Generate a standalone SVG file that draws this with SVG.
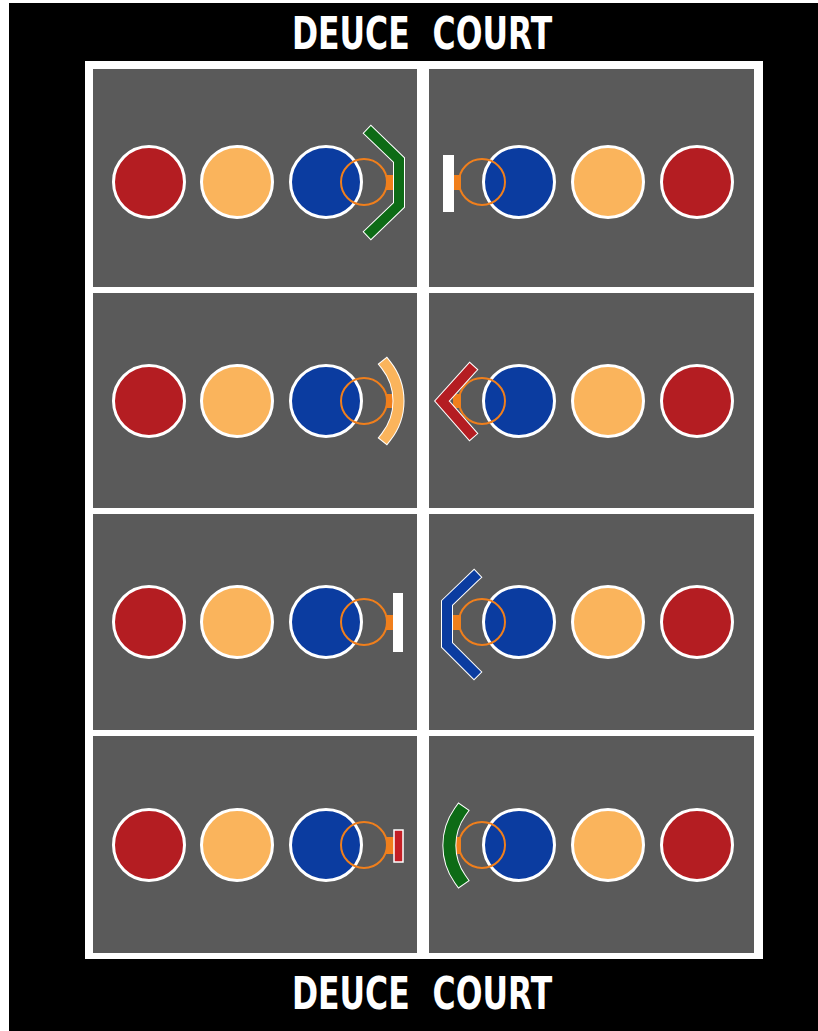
<svg xmlns="http://www.w3.org/2000/svg" width="818" height="1031" viewBox="0 0 818 1031">
<style>
.cell{fill:#5a5a5a}
.red{fill:#b41d22;stroke:#fff;stroke-width:3}
.gold{fill:#fab45c;stroke:#fff;stroke-width:3}
.blue{fill:#0b3ca0;stroke:#fff;stroke-width:3}
.ring{fill:none;stroke:#f07f1c;stroke-width:2}
.tab{fill:#f07f1c}
.title{font-family:"DejaVu Sans","Liberation Sans",sans-serif;font-weight:bold;font-size:45px;fill:#fff}
.edge{fill:none;stroke:#fff;stroke-width:12;stroke-linejoin:miter;stroke-linecap:square}
.band{fill:none;stroke-width:10;stroke-linejoin:miter;stroke-linecap:square}
</style>
<rect x="0" y="0" width="818" height="1031" fill="#fff"/>
<rect x="9" y="3" width="809" height="1028" fill="#000"/>
<g id="court">
<rect x="85" y="61" width="678" height="898" fill="#fff"/>
<rect class="cell" x="93" y="69" width="324" height="218"/>
<rect class="cell" x="429" y="69" width="325" height="218"/>
<rect class="cell" x="93" y="293" width="324" height="215"/>
<rect class="cell" x="429" y="293" width="325" height="215"/>
<rect class="cell" x="93" y="514" width="324" height="216"/>
<rect class="cell" x="429" y="514" width="325" height="216"/>
<rect class="cell" x="93" y="736" width="324" height="217"/>
<rect class="cell" x="429" y="736" width="325" height="217"/>
</g>
<g id="title-top">
<text class="title" transform="scale(0.7,1)" y="49"><tspan x="417">DEUCE</tspan><tspan x="618">COURT</tspan></text>
</g>
<g id="title-bottom">
<text class="title" transform="scale(0.7,1)" y="1009"><tspan x="417">DEUCE</tspan><tspan x="618">COURT</tspan></text>
</g>

<g id="row1-left">
<circle class="red" cx="149" cy="182" r="35.5"/>
<circle class="gold" cx="237" cy="182" r="35.5"/>
<circle class="blue" cx="326" cy="182" r="35.5"/>
<circle class="ring" cx="364" cy="182" r="23"/>
<rect class="tab" x="386" y="175" width="8" height="15"/>
<polyline class="edge" points="371,133 399,160 399,205 371,232"/>
<polyline class="band" points="371,133 399,160 399,205 371,232" stroke="#0d6b16"/>
</g>
<g id="row1-right">
<circle class="red" cx="697" cy="182" r="35.5"/>
<circle class="gold" cx="608" cy="182" r="35.5"/>
<circle class="blue" cx="519" cy="182" r="35.5"/>
<circle class="ring" cx="482" cy="182" r="23"/>
<rect class="tab" x="453" y="175" width="8" height="15"/>
<rect x="443" y="155" width="11" height="57" fill="#fff"/>
</g>

<g id="row2-left">
<circle class="red" cx="149" cy="401" r="35.5"/>
<circle class="gold" cx="237" cy="401" r="35.5"/>
<circle class="blue" cx="326" cy="401" r="35.5"/>
<circle class="ring" cx="364" cy="401" r="23"/>
<rect class="tab" x="386" y="394" width="8" height="14"/>
<path d="M386,365 A58,58 0 0 1 386,437" fill="none" stroke="#fff" stroke-width="12" stroke-linecap="square"/>
<path d="M386,365 A58,58 0 0 1 386,437" fill="none" stroke="#fab45c" stroke-width="10" stroke-linecap="square"/>
</g>
<g id="row2-right">
<circle class="red" cx="697" cy="401" r="35.5"/>
<circle class="gold" cx="608" cy="401" r="35.5"/>
<circle class="blue" cx="519" cy="401" r="35.5"/>
<circle class="ring" cx="482" cy="401" r="23"/>
<rect class="tab" x="453" y="394" width="8" height="14"/>
<polyline class="edge" points="470,370 442,401 470,433"/>
<polyline class="band" points="470,370 442,401 470,433" stroke="#b41d22"/>
</g>

<g id="row3-left">
<circle class="red" cx="149" cy="622" r="35.5"/>
<circle class="gold" cx="237" cy="622" r="35.5"/>
<circle class="blue" cx="326" cy="622" r="35.5"/>
<circle class="ring" cx="364" cy="622" r="23"/>
<rect class="tab" x="386" y="615" width="8" height="15"/>
<rect x="393" y="593" width="10" height="59" fill="#fff"/>
</g>
<g id="row3-right">
<circle class="red" cx="697" cy="622" r="35.5"/>
<circle class="gold" cx="608" cy="622" r="35.5"/>
<circle class="blue" cx="519" cy="622" r="35.5"/>
<circle class="ring" cx="482" cy="622" r="23"/>
<rect class="tab" x="453" y="615" width="8" height="15"/>
<polyline class="edge" points="474,577 447,603 447,645 474,672"/>
<polyline class="band" points="474,577 447,603 447,645 474,672" stroke="#0b3ca0"/>
</g>

<g id="row4-left">
<circle class="red" cx="149" cy="845" r="35.5"/>
<circle class="gold" cx="237" cy="845" r="35.5"/>
<circle class="blue" cx="326" cy="845" r="35.5"/>
<circle class="ring" cx="364" cy="845" r="23"/>
<rect class="tab" x="386" y="837" width="8" height="17"/>
<rect x="394" y="830" width="9" height="32" fill="#c41e24" stroke="#fff" stroke-width="1.5"/>
</g>
<g id="row4-right">
<circle class="red" cx="697" cy="845" r="35.5"/>
<circle class="gold" cx="608" cy="845" r="35.5"/>
<circle class="blue" cx="519" cy="845" r="35.5"/>
<circle class="ring" cx="482" cy="845" r="23"/>
<rect class="tab" x="453" y="837" width="8" height="17"/>
<path d="M460,812 A58,58 0 0 0 460,879" fill="none" stroke="#fff" stroke-width="14" stroke-linecap="square"/>
<path d="M460,812 A58,58 0 0 0 460,879" fill="none" stroke="#0d6b16" stroke-width="12" stroke-linecap="square"/>
</g>
</svg>
